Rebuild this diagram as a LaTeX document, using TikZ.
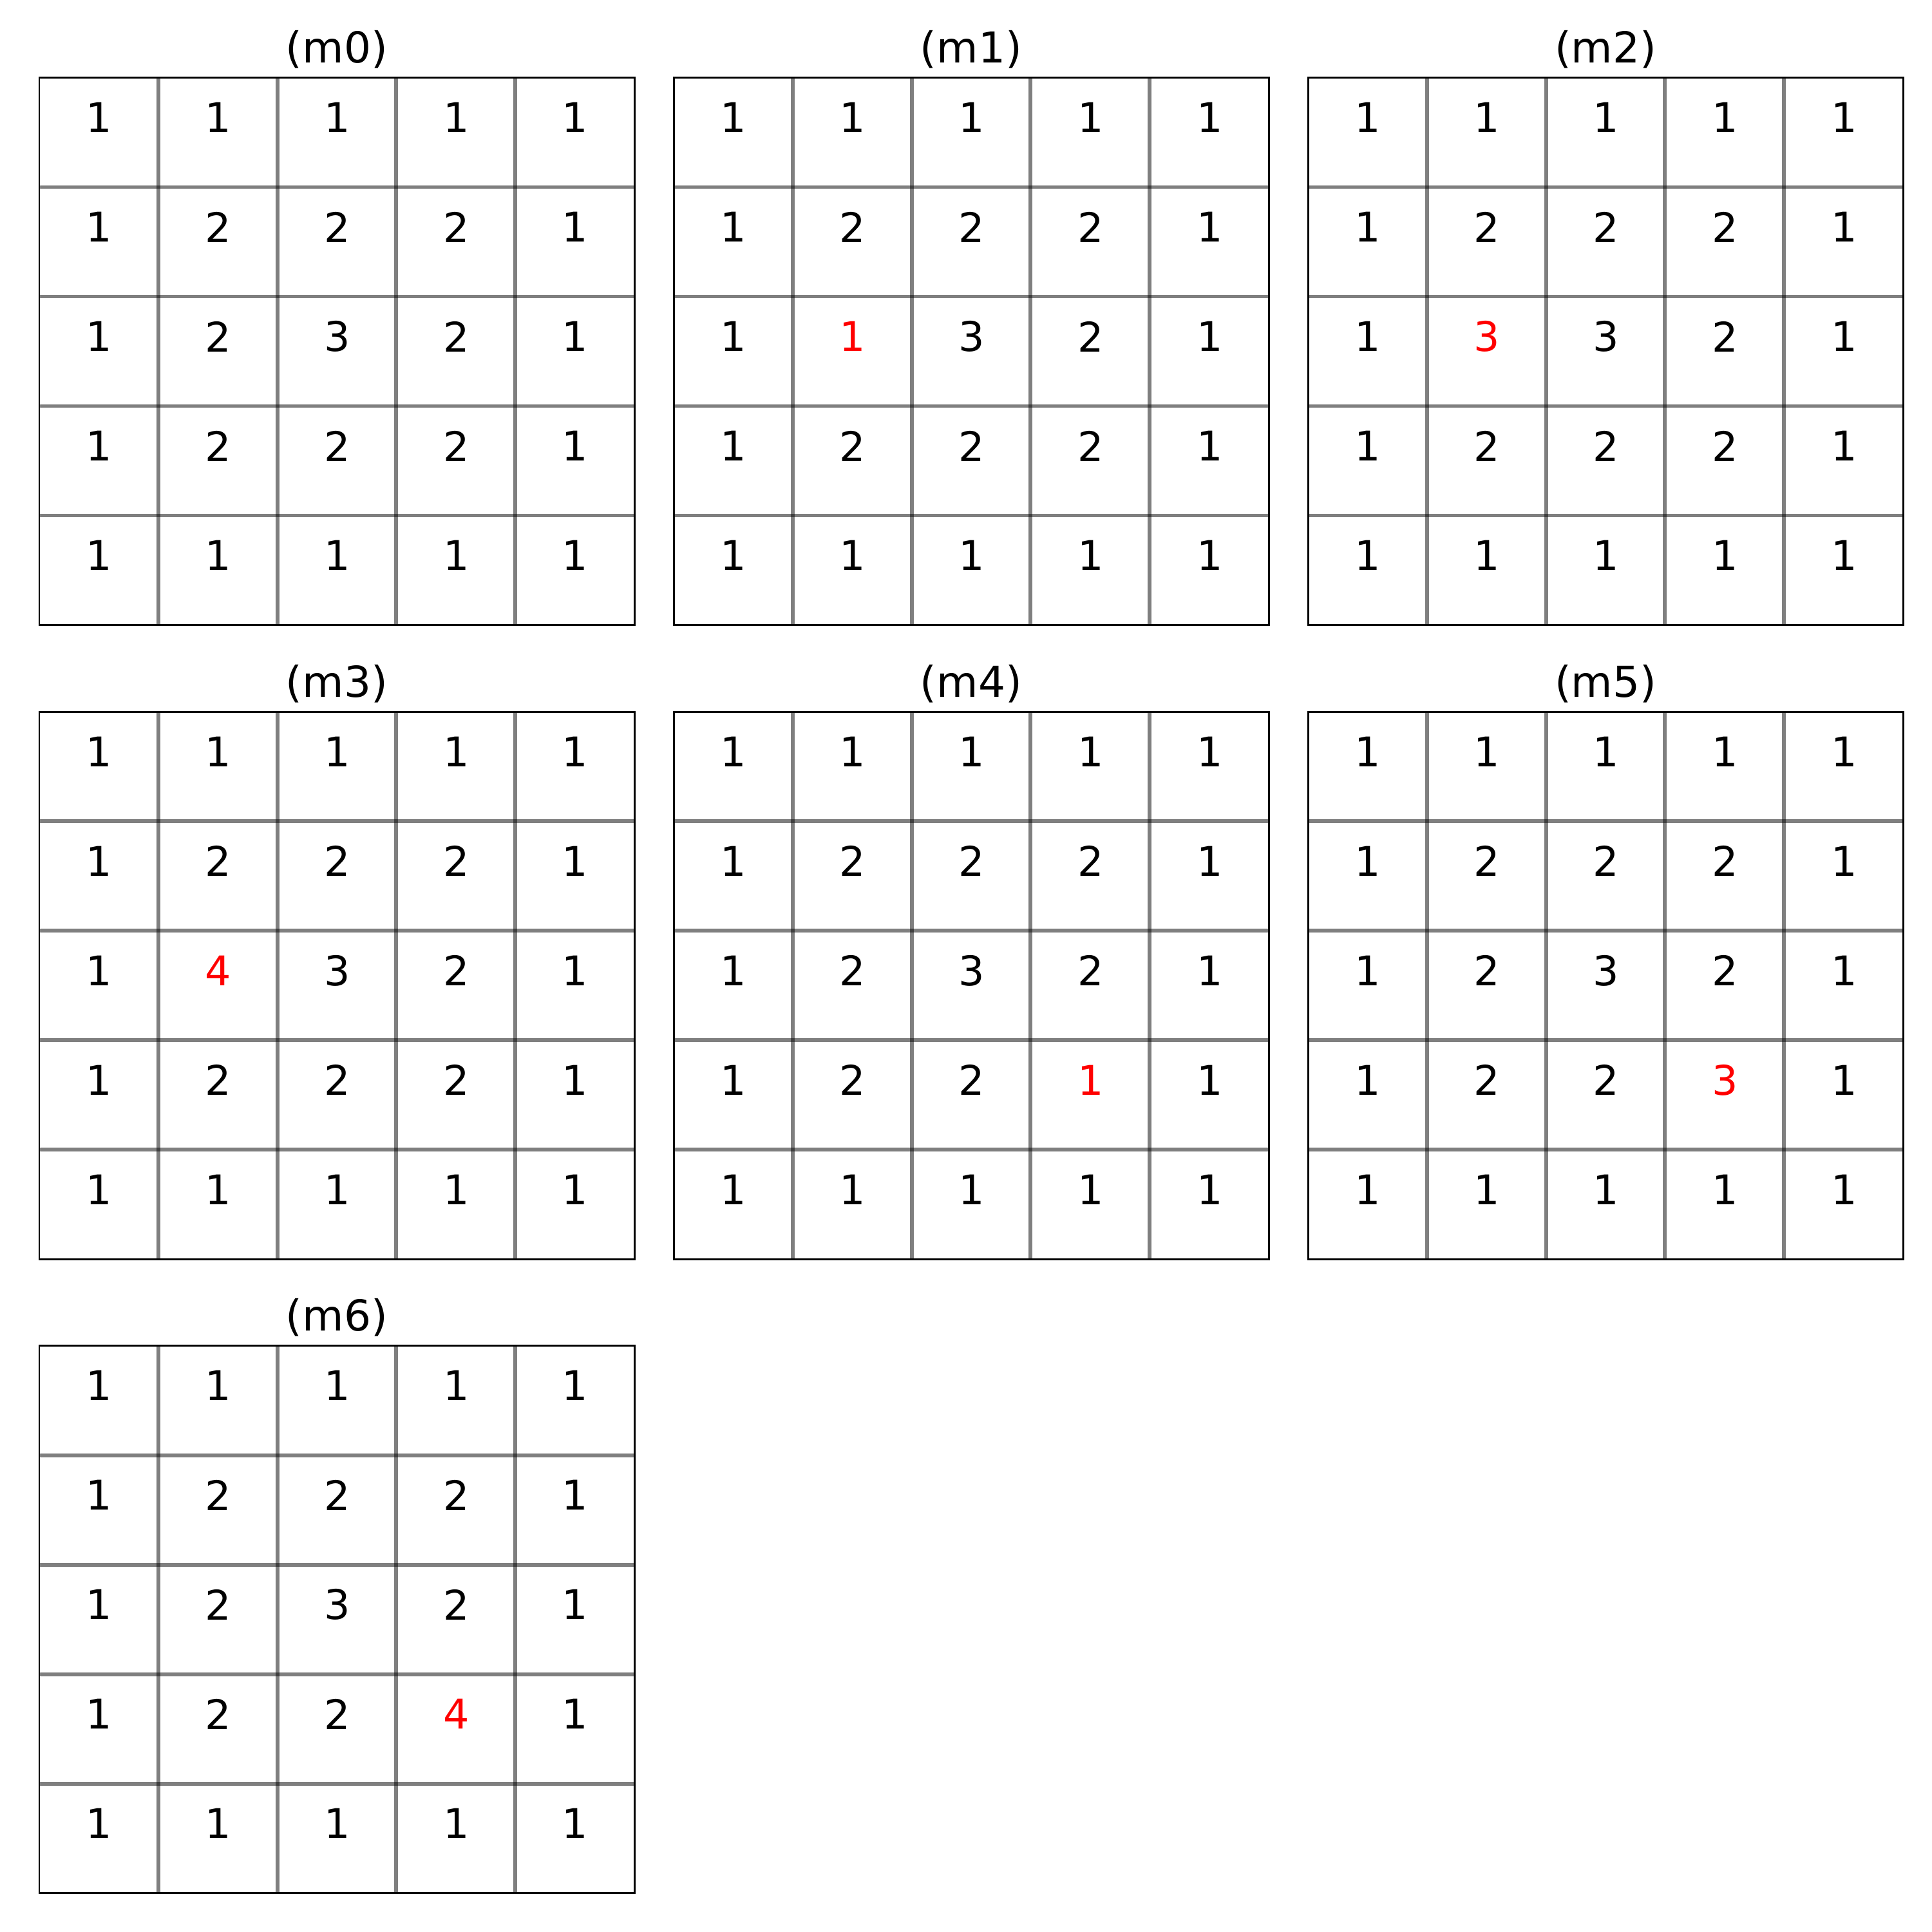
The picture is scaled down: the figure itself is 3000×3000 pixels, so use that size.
\documentclass[tikz,border=0pt]{standalone}
\usepackage{fontspec}
\setmainfont{DejaVu Sans}
\tikzset{
  cellnum/.style={inner sep=0pt, font=\fontsize{18.07pt}{21pt}\selectfont},
  hl/.style={text=red},
  paneltitle/.style={inner sep=0pt, anchor=base, font=\fontsize{18.8pt}{22pt}\selectfont},
  gridline/.style={draw=black, opacity=0.5, line width=1.7pt},
  frame/.style={draw=black, line width=0.85pt}
}
\begin{document}
\begin{tikzpicture}[x=0.01cm,y=-0.01cm]
\useasboundingbox (0,0) rectangle (3000,3000);
\foreach \k/\gc/\gr/\rr/\rc/\val in {0/0/0/-1/-1/0, 1/1/0/2/1/1, 2/2/0/2/1/3, 3/0/1/2/1/4, 4/1/1/3/3/1, 5/2/1/3/3/3, 6/0/2/3/3/4}{
  \pgfmathsetmacro\X{61+985*\gc}
  \pgfmathsetmacro\Y{120.5+984.5*\gr}
  \node[paneltitle] (t\k) at (\X+462,\Y-23) {(m\k)};
  \foreach \i in {1,...,4}{
    \draw[gridline] (\X+\i*184.8,\Y) -- (\X+\i*184.8,\Y+850);
    \draw[gridline] (\X,\Y+\i*170) -- (\X+924,\Y+\i*170);
  }
  \draw[frame] (\X,\Y) rectangle (\X+924,\Y+850);
  \foreach \r in {0,...,4}{
    \foreach \c in {0,...,4}{
      \pgfmathtruncatemacro\v{min(\r,\c,4-\r,4-\c)+1}
      \pgfmathtruncatemacro\isred{and(\r==\rr,\c==\rc)}
      \ifnum\isred=1
        \node[cellnum,hl] (m\k-\r-\c) at (\X+93+\c*184.8,\Y+62+\r*170) {\val};
      \else
        \node[cellnum] (m\k-\r-\c) at (\X+93+\c*184.8,\Y+62+\r*170) {\v};
      \fi
    }
  }
}
\end{tikzpicture}
\end{document}
